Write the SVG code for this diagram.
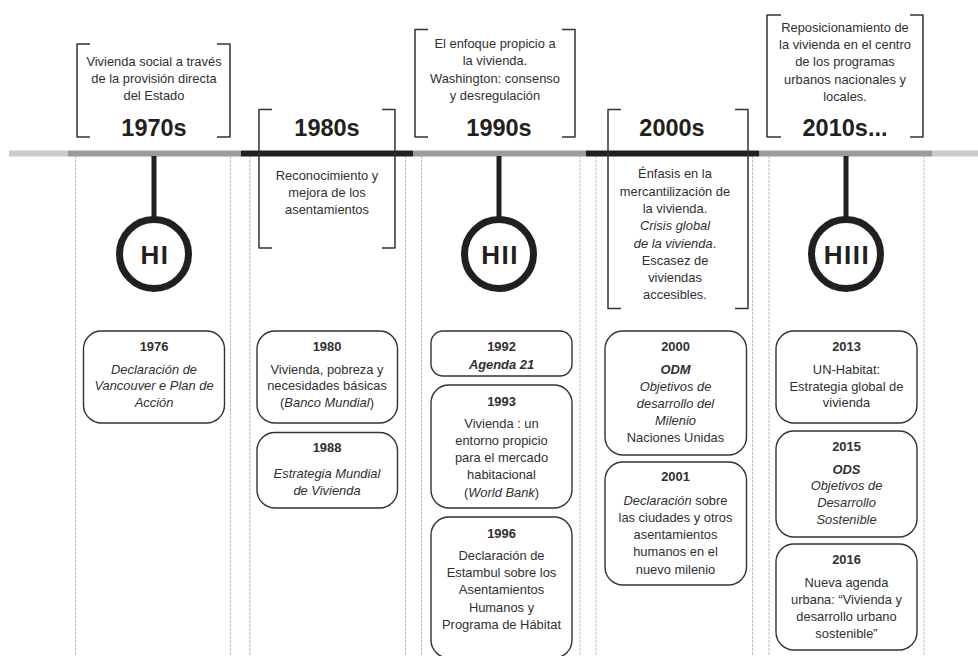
<svg xmlns="http://www.w3.org/2000/svg" width="978" height="656" viewBox="0 0 978 656">
<style>
.bg{fill:#fff}
.col{fill:none;stroke:#b0b0b0;stroke-width:0.8;stroke-dasharray:3 1}
.bl{fill:#cbcbcb}
.bm{fill:#9a9a9a}
.bd{fill:#231f20}
.brk{fill:none;stroke:#333;stroke-width:1.5;stroke-linejoin:round}
.box{fill:#fff;stroke:#333;stroke-width:1.4}
.t{font-family:"Liberation Sans",Arial,sans-serif;font-size:12.9px;fill:#303030;text-anchor:middle}
.b{font-weight:bold}
.i{font-style:italic}
.dec{font-family:"Liberation Sans",Arial,sans-serif;font-size:23.5px;font-weight:bold;fill:#231f20;text-anchor:middle}
.hc{fill:#fff;stroke:#231f20;stroke-width:7}
.hl{font-family:"Liberation Sans",Arial,sans-serif;font-size:26px;font-weight:bold;fill:#231f20;text-anchor:middle;letter-spacing:1.5px}
.stem{stroke:#231f20;stroke-width:5}
</style>
<rect class="bg" x="0" y="0" width="978" height="656"/>
<g id="columns">
<line class="col" x1="75.5" y1="156" x2="75.5" y2="656"/>
<line class="col" x1="230.5" y1="156" x2="230.5" y2="656"/>
<line class="col" x1="250" y1="156" x2="250" y2="656"/>
<line class="col" x1="405.5" y1="156" x2="405.5" y2="656"/>
<line class="col" x1="421.5" y1="156" x2="421.5" y2="656"/>
<line class="col" x1="580" y1="156" x2="580" y2="656"/>
<line class="col" x1="596" y1="156" x2="596" y2="656"/>
<line class="col" x1="752.5" y1="156" x2="752.5" y2="656"/>
<line class="col" x1="769" y1="156" x2="769" y2="656"/>
<line class="col" x1="924" y1="156" x2="924" y2="656"/>
</g>
<g id="timeline">
<rect class="bl" x="9" y="150.5" width="59" height="6"/>
<rect class="bm" x="68" y="150.5" width="173" height="6"/>
<rect class="bd" x="241" y="150.5" width="172" height="6"/>
<rect class="bm" x="413" y="150.5" width="173" height="6"/>
<rect class="bd" x="586" y="150.5" width="173" height="6"/>
<rect class="bm" x="759" y="150.5" width="173" height="6"/>
<rect class="bl" x="932" y="150.5" width="46" height="6"/>
</g>
<g id="connectors">
<line class="stem" x1="154" y1="156" x2="154" y2="218"/>
<line class="stem" x1="499" y1="156" x2="499" y2="218"/>
<line class="stem" x1="846" y1="156" x2="846" y2="218"/>
</g>
<g id="d1970">
<path class="brk" d="M90,44 H77 V137 H90 M217,44 H230 V137 H217"/>
<text class="t" x="154" y="66">Vivienda social a través</text>
<text class="t" x="154" y="83">de la provisión directa</text>
<text class="t" x="154" y="100">del Estado</text>
<text class="dec" x="154" y="136">1970s</text>
</g>
<g id="d1980">
<path class="brk" d="M272,109.5 H259 V248 H272 M382,109.5 H395 V248 H382"/>
<text class="dec" x="327" y="136">1980s</text>
<text class="t" x="327" y="180">Reconocimiento y</text>
<text class="t" x="327" y="197">mejora de los</text>
<text class="t" x="327" y="214">asentamientos</text>
</g>
<g id="d1990">
<path class="brk" d="M428,29.5 H415 V137 H428 M562,29.5 H575 V137 H562"/>
<text class="t" x="495" y="47.5">El enfoque propicio a</text>
<text class="t" x="495" y="65">la vivienda.</text>
<text class="t" x="495" y="82.5">Washington: consenso</text>
<text class="t" x="495" y="100">y desregulación</text>
<text class="dec" x="499" y="136">1990s</text>
</g>
<g id="d2000">
<path class="brk" d="M621,109.5 H608 V308.5 H621 M735,109.5 H748 V308.5 H735"/>
<text class="dec" x="672" y="136">2000s</text>
<text class="t" x="675" y="178">Énfasis en la</text>
<text class="t" x="675" y="195.5">mercantilización de</text>
<text class="t" x="675" y="213">la vivienda.</text>
<text class="t i" x="675" y="230">Crisis global</text>
<text class="t" x="675" y="247.5"><tspan class="i">de la vivienda</tspan>.</text>
<text class="t" x="675" y="264.5">Escasez de</text>
<text class="t" x="675" y="281.5">viviendas</text>
<text class="t" x="675" y="299">accesibles.</text>
</g>
<g id="d2010">
<path class="brk" d="M781,15 H767 V137 H781 M910,15 H923 V137 H910"/>
<text class="t" x="845" y="31.5">Reposicionamiento de</text>
<text class="t" x="845" y="49">la vivienda en el centro</text>
<text class="t" x="845" y="66">de los programas</text>
<text class="t" x="845" y="83.5">urbanos nacionales y</text>
<text class="t" x="845" y="100.5">locales.</text>
<text class="dec" x="845" y="136">2010s...</text>
</g>
<g id="HI">
<circle class="hc" cx="154" cy="254" r="34.5"/>
<text class="hl" x="155" y="263.5">HI</text>
</g>
<g id="HII">
<circle class="hc" cx="499" cy="254" r="34.5"/>
<text class="hl" x="500" y="263.5">HII</text>
</g>
<g id="HIII">
<circle class="hc" cx="846" cy="254" r="34.5"/>
<text class="hl" x="847" y="263.5">HIII</text>
</g>
<g id="e1976">
<rect class="box" x="83.5" y="331" width="141" height="92" rx="18"/>
<text class="t b" x="154" y="351">1976</text>
<text class="t i" x="154" y="373.5">Declaración de</text>
<text class="t i" x="154" y="390">Vancouver e Plan de</text>
<text class="t i" x="154" y="406.5">Acción</text>
</g>
<g id="e1980">
<rect class="box" x="257" y="331" width="140.5" height="92" rx="18"/>
<text class="t b" x="327" y="351">1980</text>
<text class="t" x="327" y="373.5">Vivienda, pobreza y</text>
<text class="t" x="327" y="390">necesidades básicas</text>
<text class="t" x="327" y="406.5">(<tspan class="i">Banco Mundial</tspan>)</text>
</g>
<g id="e1988">
<rect class="box" x="257" y="432.5" width="140.5" height="75.5" rx="18"/>
<text class="t b" x="327" y="452">1988</text>
<text class="t i" x="327" y="478">Estrategia Mundial</text>
<text class="t i" x="327" y="495">de Vivienda</text>
</g>
<g id="e1992">
<rect class="box" x="431" y="331" width="141" height="45" rx="12"/>
<text class="t b" x="501.5" y="351">1992</text>
<text class="t b i" x="501.5" y="368.5">Agenda 21</text>
</g>
<g id="e1993">
<rect class="box" x="431" y="385" width="141" height="123" rx="18"/>
<text class="t b" x="501.5" y="406">1993</text>
<text class="t" x="501.5" y="428">Vivienda : un</text>
<text class="t" x="501.5" y="445">entorno propicio</text>
<text class="t" x="501.5" y="462">para el mercado</text>
<text class="t" x="501.5" y="479">habitacional</text>
<text class="t" x="501.5" y="496.5">(<tspan class="i">World Bank</tspan>)</text>
</g>
<g id="e1996">
<rect class="box" x="431" y="517" width="141" height="141" rx="18"/>
<text class="t b" x="501.5" y="538">1996</text>
<text class="t" x="501.5" y="560">Declaración de</text>
<text class="t" x="501.5" y="577">Estambul sobre los</text>
<text class="t" x="501.5" y="594">Asentamientos</text>
<text class="t" x="501.5" y="611.5">Humanos y</text>
<text class="t" x="501.5" y="628.5">Programa de Hábitat</text>
</g>
<g id="e2000">
<rect class="box" x="605" y="331" width="141.5" height="124" rx="18"/>
<text class="t b" x="675.5" y="351">2000</text>
<text class="t b i" x="675.5" y="373.5">ODM</text>
<text class="t i" x="675.5" y="391">Objetivos de</text>
<text class="t i" x="675.5" y="407.5">desarrollo del</text>
<text class="t i" x="675.5" y="425">Milenio</text>
<text class="t" x="675.5" y="442">Naciones Unidas</text>
</g>
<g id="e2001">
<rect class="box" x="605" y="462" width="141.5" height="123" rx="18"/>
<text class="t b" x="675.5" y="481">2001</text>
<text class="t" x="675.5" y="504.5"><tspan class="i">Declaración</tspan> sobre</text>
<text class="t" x="675.5" y="521.5">las ciudades y otros</text>
<text class="t" x="675.5" y="538.5">asentamientos</text>
<text class="t" x="675.5" y="556">humanos en el</text>
<text class="t" x="675.5" y="573.5">nuevo milenio</text>
</g>
<g id="e2013">
<rect class="box" x="776" y="331" width="141" height="92" rx="18"/>
<text class="t b" x="846.5" y="351">2013</text>
<text class="t" x="846.5" y="374">UN-Habitat:</text>
<text class="t" x="846.5" y="390.5">Estrategia global de</text>
<text class="t" x="846.5" y="406.5">vivienda</text>
</g>
<g id="e2015">
<rect class="box" x="776" y="431" width="141" height="106" rx="18"/>
<text class="t b" x="846.5" y="451">2015</text>
<text class="t b i" x="846.5" y="473.5">ODS</text>
<text class="t i" x="846.5" y="490">Objetivos de</text>
<text class="t i" x="846.5" y="507">Desarrollo</text>
<text class="t i" x="846.5" y="524">Sostenible</text>
</g>
<g id="e2016">
<rect class="box" x="776" y="544" width="141" height="106" rx="18"/>
<text class="t b" x="846.5" y="563.5">2016</text>
<text class="t" x="846.5" y="586.5">Nueva agenda</text>
<text class="t" x="846.5" y="603.5">urbana: “Vivienda y</text>
<text class="t" x="846.5" y="621">desarrollo urbano</text>
<text class="t" x="846.5" y="637.5">sostenible”</text>
</g>
</svg>
